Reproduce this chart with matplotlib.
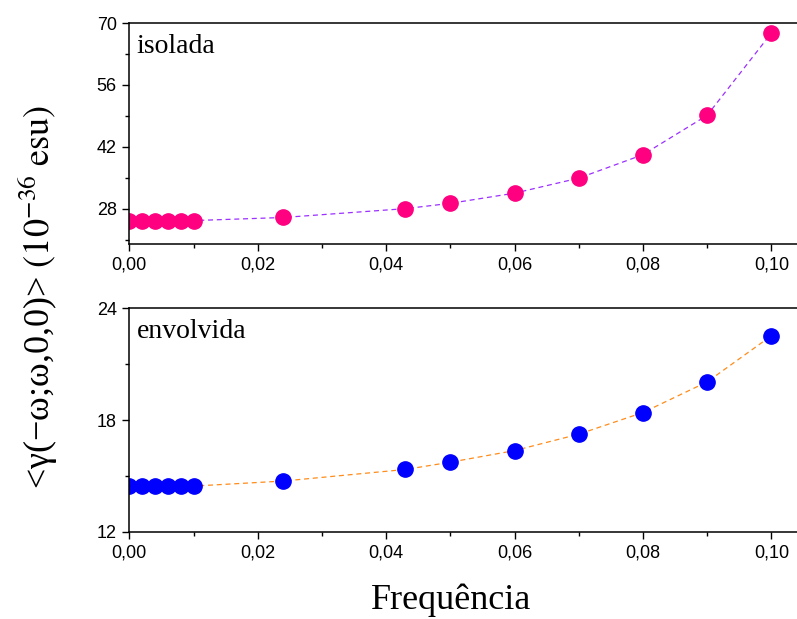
import matplotlib
matplotlib.use("Agg")
import matplotlib.pyplot as plt
from matplotlib.ticker import FuncFormatter, MultipleLocator

freq = [0.0, 0.002, 0.004, 0.006, 0.008, 0.010, 0.024, 0.043, 0.050, 0.060, 0.070, 0.080, 0.090, 0.100]
isolada = [25.3, 25.3, 25.3, 25.3, 25.3, 25.3, 26.0, 28.0, 29.2, 31.5, 34.9, 40.2, 49.1, 67.7]
envolvida = [14.46, 14.46, 14.46, 14.46, 14.46, 14.46, 14.73, 15.35, 15.74, 16.36, 17.24, 18.40, 20.04, 22.51]
xticks = [0.0, 0.02, 0.04, 0.06, 0.08, 0.10]
yticks_top = [28, 42, 56, 70]
yticks_bot = [12, 18, 24]

plt.rcParams["mathtext.fontset"] = "stix"

W, H = 797, 619
fig = plt.figure(figsize=(W / 100, H / 100), dpi=100)
left = 129.3 / W
ax1 = fig.add_axes([left, 1 - 244 / H, 1 - left, (244 - 23) / H])
ax2 = fig.add_axes([left, 1 - 532 / H, 1 - left, (532 - 308) / H])

comma = FuncFormatter(lambda v, p: f"{v:.2f}".replace(".", ","))
tickfont = ["Liberation Sans", "DejaVu Sans"]
serif = ["Liberation Serif", "DejaVu Serif"]

def style(ax, ylim, yticks, yminor):
    ax.set_xlim(0, 0.104)
    ax.set_ylim(*ylim)
    ax.set_xticks(xticks)
    ax.xaxis.set_minor_locator(MultipleLocator(0.01))
    ax.set_yticks(yticks)
    ax.yaxis.set_minor_locator(MultipleLocator(yminor))
    ax.xaxis.set_major_formatter(comma)
    ax.spines["right"].set_visible(False)
    for s in ["left", "bottom", "top"]:
        ax.spines[s].set_linewidth(1.1)
    ax.tick_params(axis="both", which="major", direction="out", length=5, width=1, labelsize=13, top=False, pad=4)
    ax.tick_params(axis="both", which="minor", direction="out", length=3, width=1, top=False)
    for lab in ax.get_xticklabels() + ax.get_yticklabels():
        lab.set_family(tickfont)

ax1.plot(freq, isolada, linestyle=(0, (4, 3)), color="#9b30ff", linewidth=0.9, zorder=1)
ax1.plot(freq, isolada, linestyle="none", marker="o", markersize=11, color="#ff0080", zorder=2)
style(ax1, (20, 70), yticks_top, 7)
ax1.text(0.011, 0.95, "isolada", transform=ax1.transAxes, fontsize=20, family=serif, va="top")

ax2.plot(freq, envolvida, linestyle=(0, (4, 3)), color="#ff8c1a", linewidth=0.9, zorder=1)
ax2.plot(freq, envolvida, linestyle="none", marker="o", markersize=11, color="#0000ff", zorder=2)
style(ax2, (12, 24), yticks_bot, 3)
ax2.text(0.011, 0.95, "envolvida", transform=ax2.transAxes, fontsize=20, family=serif, va="top")

fig.text(451 / W, 0.003, "Frequência", ha="center", va="bottom", fontsize=26, family=serif)
fig.text(0.048, 1 - 297 / H, r"<γ(−ω;ω,0,0)> $\left(\mathrm{10^{-36}\ esu}\right)$", rotation=90,
         ha="center", va="center", fontsize=26, family=serif)

fig.savefig("out.png", dpi=100)
